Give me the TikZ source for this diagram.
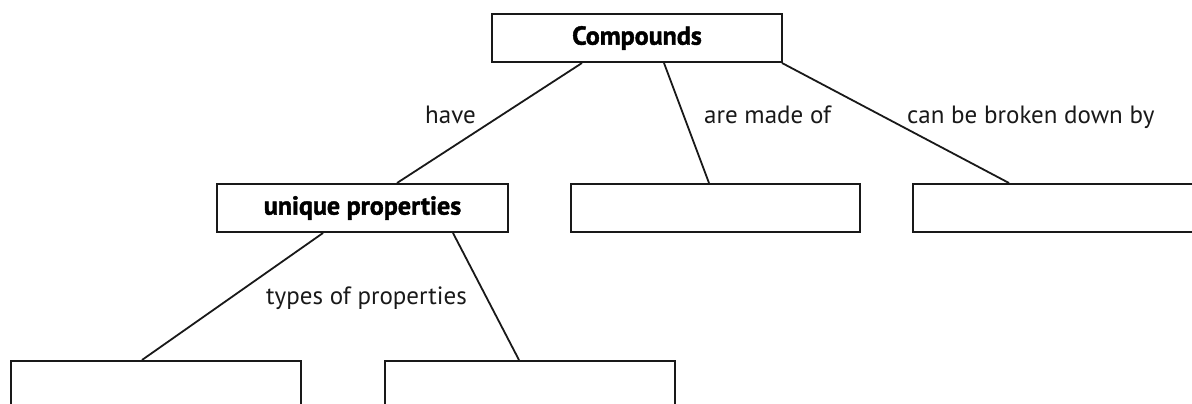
\documentclass[tikz,border=0pt]{standalone}
\usepackage{fontspec}
\setmainfont{PT Sans}
\newfontfamily\heavy{PT Sans}[BoldFeatures={FakeBold=1.6}]
\begin{document}
\begin{tikzpicture}[x=1pt,y=-1pt,
  box/.style={draw=black!90,line width=2pt,minimum width=290pt,minimum height=48pt,inner sep=0pt,anchor=north west,font=\heavy\fontsize{26}{28}\selectfont\bfseries},
  tallbox/.style={box,minimum height=90pt},
  link/.style={draw=black!90,line width=1.8pt},
  lbl/.style={font=\fontsize{25}{28}\selectfont,text=black!90,inner sep=0pt,anchor=base west}]
\useasboundingbox (0,0) rectangle (1192,404);
\clip (0,0) rectangle (1192,404);
\node[box] (comp) at (491,13) {Compounds};
\node[box,minimum width=291pt] (up) at (216,183) {unique properties};
\node[box,minimum width=289pt] (made) at (570,183) {};
\node[box] (broken) at (912,183) {};
\node[tallbox] (b1) at (10,360) {};
\node[tallbox] (b2) at (384,360) {};
\draw[link] ([xshift=91pt]comp.south west) -- ([xshift=181pt]up.north west);
\draw[link] ([xshift=173pt]comp.south west) -- ([xshift=139pt]made.north west);
\draw[link] ([xshift=-1pt]comp.south east) -- ([xshift=97pt]broken.north west);
\draw[link] ([xshift=107pt]up.south west) -- ([xshift=132pt]b1.north west);
\draw[link] ([xshift=237pt]up.south west) -- ([xshift=135pt]b2.north west);
\node[lbl] (l1) at (425,123) {have};
\node[lbl] (l2) at (704,123) {are made of};
\node[lbl] (l3) at (907,123) {can be broken down by};
\node[lbl] (l4) at (266,304) {types of properties};
\end{tikzpicture}
\end{document}
